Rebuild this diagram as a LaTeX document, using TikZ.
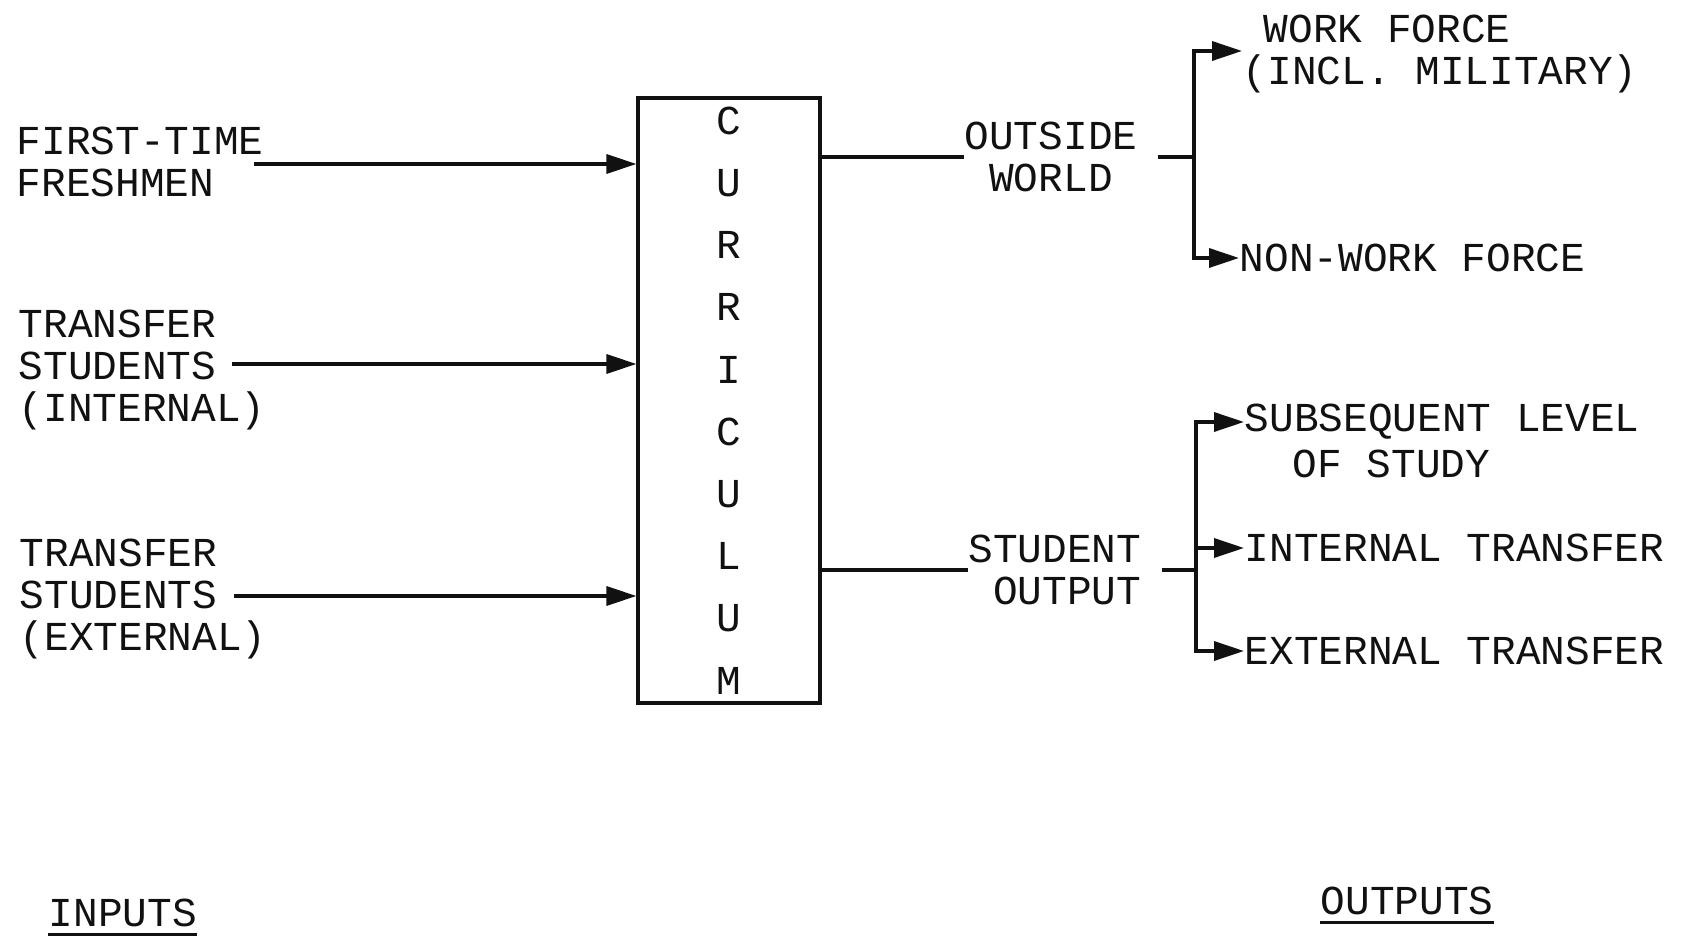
\documentclass[tikz,border=0pt]{standalone}
\usepackage{fontspec}
\setmainfont{Liberation Mono}
\usetikzlibrary{arrows.meta, positioning, calc}
\definecolor{ink}{HTML}{111111}
\tikzset{
  font=\fontsize{11.7}{12}\selectfont,
  inlabel/.style={inner sep=0pt, anchor=west, align=left, text=ink},
  outlabel/.style={inner sep=0pt, anchor=west, align=left, text=ink},
  curbox/.style={rectangle, draw=ink, line width=0.9pt, text=ink, align=center,
                 inner sep=0pt, minimum width=1.82cm, minimum height=6.05cm,
                 font=\fontsize{11.7}{17.7}\selectfont},
  feed/.style={-{Triangle[length=3mm, width=1.9mm]}, draw=ink, line width=1pt},
  link/.style={draw=ink, line width=1pt},
  heading/.style={inner xsep=0pt, inner ysep=2pt, anchor=west, text=ink},
}

\begin{document}
\begin{tikzpicture}
\useasboundingbox (0,0) rectangle (16.86,9.35);

% --- inputs ---
\node[inlabel] (fresh) at (0.16, 7.73) {FIRST-TIME\\FRESHMEN};
\node[inlabel] (tint)  at (0.18, 5.65) {TRANSFER\\STUDENTS\\(INTERNAL)};
\node[inlabel] (text)  at (0.19, 3.36) {TRANSFER\\STUDENTS\\(EXTERNAL)};

\node[curbox] (cur) at (7.29, 5.345) {C\\U\\R\\R\\I\\C\\U\\L\\U\\M};

\draw[feed] ([xshift=-1mm, yshift=-0.2mm]fresh.east) -- ([yshift=-0.2mm]cur.west |- fresh.east);
\draw[feed] ([xshift=-3.4mm, yshift=0.6mm]tint.east) -- ([yshift=0.6mm]cur.west |- tint.east);
\draw[feed] ([xshift=-3.3mm, yshift=0.3mm]text.east) -- ([yshift=0.3mm]cur.west |- text.east);

% --- outside world branch ---
\node[outlabel, anchor=center, align=center] (world) at (10.51, 7.78) {OUTSIDE\\WORLD};
\node[outlabel] (work)    at (12.42, 8.81) {\hspace*{0.21cm}WORK FORCE\\(INCL. MILITARY)};
\node[outlabel] (nonwork) at (12.39, 6.77) {NON-WORK FORCE};
\coordinate (wbus) at (11.94, 7.78);

\draw[link] (cur.east |- world.west) -- (world.west);
\draw[link] ([xshift=2mm]world.east) -- (wbus);
\draw[feed] (wbus) |- ([yshift=0.3mm]work.west);
\draw[feed] (wbus) |- (nonwork.west);

% --- student output branch ---
\node[outlabel, anchor=east, align=right] (sout) at (11.42, 3.65) {STUDENT\\OUTPUT};
\node[outlabel] (subs)  at (12.44, 5.13) {SUBSEQUENT LEVEL};
\node[outlabel] (study) at (12.92, 4.71) {OF STUDY};
\node[outlabel] (intr)  at (12.44, 3.87) {INTERNAL TRANSFER};
\node[outlabel] (extr)  at (12.44, 2.84) {EXTERNAL TRANSFER};
\coordinate (sbus) at (11.96, 3.65);

\draw[link] (cur.east |- sout.west) -- (sout.west);
\draw[link] ([xshift=2mm]sout.east) -- (sbus);
\draw[feed] (sbus) |- (subs.west);
\draw[feed] (sbus) |- (intr.west);
\draw[feed] (sbus) |- (extr.west);

% --- headings ---
\node[heading] (inp) at (0.48, 0.22) {INPUTS};
\node[heading] (outp) at (13.20, 0.34) {OUTPUTS};
\draw[link] (inp.south west) -- (inp.south east);
\draw[link] (outp.south west) -- (outp.south east);

\end{tikzpicture}
\end{document}
